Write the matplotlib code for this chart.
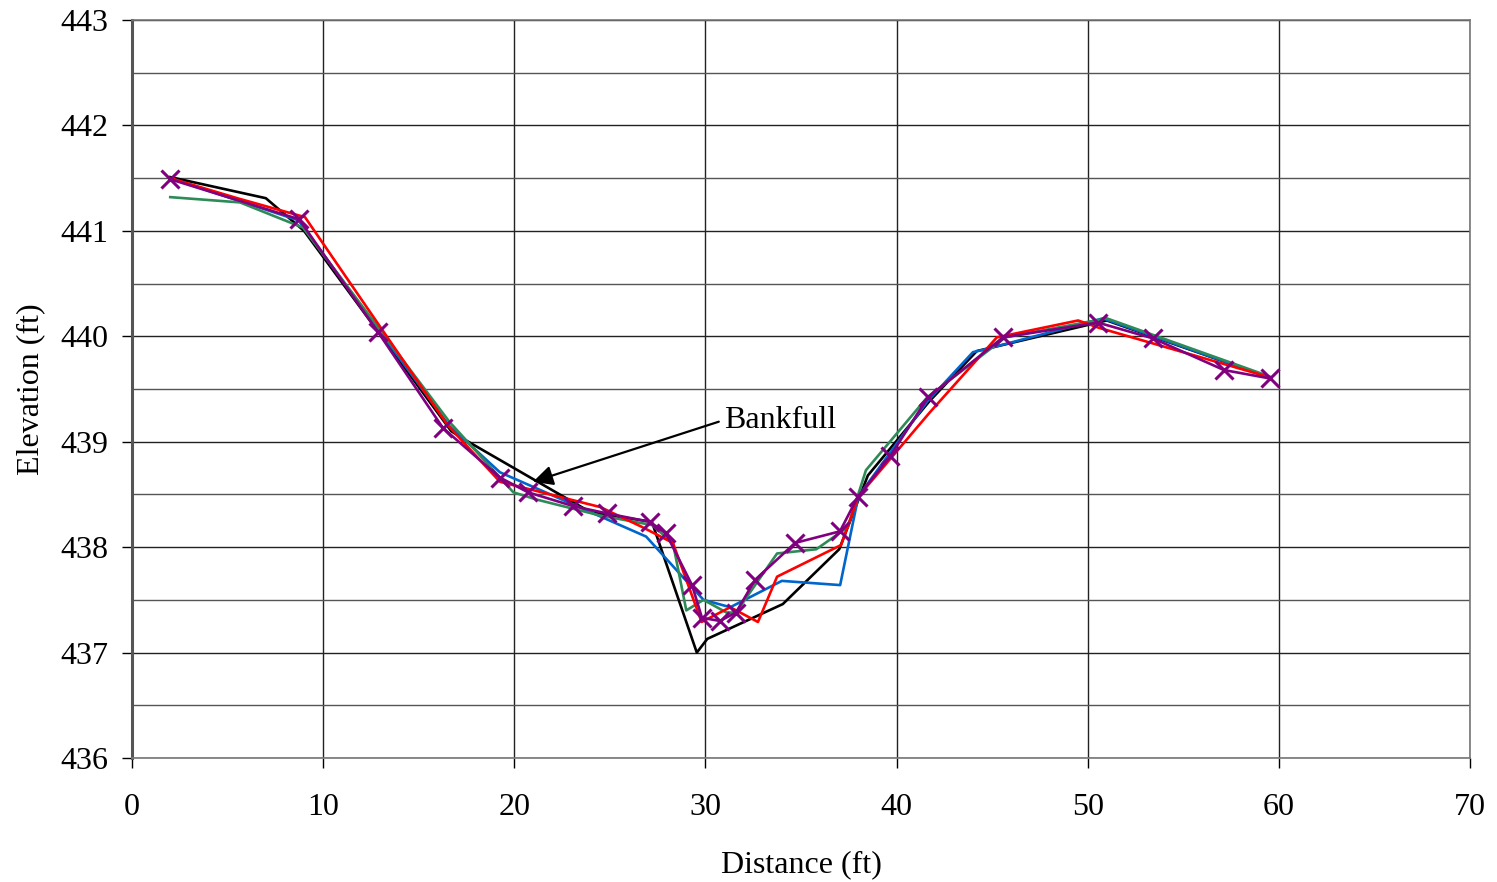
import matplotlib
matplotlib.use("Agg")
import matplotlib.pyplot as plt

# cross-section surveys, distance (ft) vs elevation (ft)
black_x = [2.0, 7.0, 9.0, 16.7, 17.4, 24.0, 27.2, 29.55, 30.1, 34.05, 37.0, 38.5, 41.7, 44.2, 51.0, 59.5]
black_y = [441.51, 441.31, 441.0, 439.1, 439.02, 438.33, 438.24, 437.0, 437.13, 437.46, 437.98, 438.68, 439.38, 439.86, 440.15, 439.61]

blue_x = [2.0, 8.7, 16.6, 19.25, 26.9, 29.9, 31.3, 34.0, 37.05, 38.0, 41.6, 44.0, 44.5, 50.8, 59.5]
blue_y = [441.5, 441.1, 439.15, 438.71, 438.1, 437.5, 437.43, 437.68, 437.64, 438.48, 439.38, 439.85, 439.87, 440.17, 439.61]

green_x = [2.0, 5.65, 8.95, 16.6, 19.95, 21.2, 24.5, 27.2, 28.3, 29.0, 29.9, 31.1, 31.6, 33.75, 35.8, 37.45, 38.4, 41.6, 45.7, 51.0, 59.5]
green_y = [441.32, 441.27, 441.03, 439.19, 438.52, 438.45, 438.3, 438.21, 438.04, 437.4, 437.5, 437.38, 437.38, 437.94, 437.98, 438.19, 438.73, 439.42, 439.99, 440.17, 439.62]

red_x = [2.0, 5.5, 9.05, 16.5, 19.25, 24.5, 26.7, 28.3, 29.8, 31.3, 32.75, 33.75, 37.1, 38.0, 41.75, 45.25, 49.5, 50.6, 59.55]
red_y = [441.5, 441.31, 441.13, 439.16, 438.62, 438.38, 438.19, 438.04, 437.29, 437.43, 437.29, 437.72, 438.02, 438.48, 439.28, 439.99, 440.15, 440.08, 439.61]

purple_x = [1.99, 8.74, 12.87, 16.27, 19.25, 20.72, 23.07, 24.85, 27.1, 27.94, 29.3, 29.82, 30.76, 31.6,
            32.6, 34.69, 37.04, 37.98, 39.66, 41.64, 45.57, 50.54, 53.42, 57.13, 59.54]
purple_y = [441.49, 441.11, 440.04, 439.13, 438.66, 438.52, 438.39, 438.32, 438.24, 438.13, 437.64, 437.33, 437.3, 437.38,
            437.69, 438.04, 438.15, 438.48, 438.86, 439.42, 439.99, 440.13, 439.98, 439.68, 439.6]

x_ticks = list(range(0, 71, 10))
y_ticks = list(range(436, 444))

plt.rcParams["font.family"] = ["Liberation Serif", "DejaVu Serif"]

fig = plt.figure(figsize=(14.97, 8.82), dpi=100)
ax = fig.add_axes([0.0882, 0.1406, 0.8937, 0.8367])

lw = 1.9
ax.plot(black_x, black_y, color="black", lw=lw, zorder=3)
ax.plot(blue_x, blue_y, color="#0066cc", lw=lw, zorder=3)
ax.plot(green_x, green_y, color="#2e8b57", lw=lw, zorder=3)
ax.plot(red_x, red_y, color="#ff0000", lw=lw, zorder=3)
ax.plot(purple_x, purple_y, color="#800080", lw=lw, marker="x", markersize=13,
        markeredgewidth=2.2, zorder=4)

ax.annotate("", xy=(20.98, 438.62), xytext=(30.7, 439.19),
            arrowprops=dict(arrowstyle="-|>", color="black", lw=1.6,
                            mutation_scale=30, shrinkA=0, shrinkB=0), zorder=5)
ax.text(31.0, 439.2, "Bankfull", fontsize=23, ha="left", va="center", zorder=5)

ax.set_xlim(0, 70)
ax.set_ylim(436, 443)
ax.set_xticks(x_ticks)
ax.set_yticks(y_ticks)
ax.set_yticks([v + 0.5 for v in y_ticks[:-1]], minor=True)
ax.tick_params(axis="both", which="major", direction="out", length=7.2, width=1,
               labelsize=23)
ax.tick_params(axis="x", which="major", pad=18)
ax.tick_params(axis="y", which="major", pad=10)
ax.tick_params(axis="y", which="minor", length=0)
ax.grid(True, which="major", color="#222222", lw=1)
ax.grid(True, which="minor", axis="y", color="#555555", lw=1)
ax.set_axisbelow(True)

for side in ["top", "right", "bottom"]:
    ax.spines[side].set_color("#777777")
    ax.spines[side].set_linewidth(1.2)
ax.spines["left"].set_color("#555555")
ax.spines["left"].set_linewidth(2.2)

ax.set_xlabel("Distance (ft)", fontsize=23, labelpad=20)
ax.set_ylabel("Elevation (ft)", fontsize=23, labelpad=11)

fig.savefig("out.png", dpi=100)
